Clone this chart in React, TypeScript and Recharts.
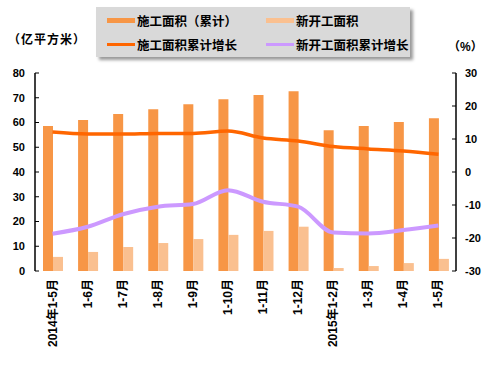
import { ComposedChart, Bar, Line, XAxis, YAxis } from "recharts";

const categories = [
  "2014年1-5月", "1-6月", "1-7月", "1-8月", "1-9月", "1-10月",
  "1-11月", "1-12月", "2015年1-2月", "1-3月", "1-4月", "1-5月",
];
// 亿平方米
const constructionArea = [58.6, 61.0, 63.4, 65.4, 67.4, 69.4, 71.1, 72.6, 56.9, 58.6, 60.2, 61.7];
const newStartArea = [5.7, 7.7, 9.7, 11.3, 12.9, 14.6, 16.2, 17.9, 1.2, 2.0, 3.2, 4.9];
// %
const constructionGrowth = [12.1, 11.5, 11.5, 11.7, 11.7, 12.4, 10.3, 9.4, 7.7, 7.0, 6.4, 5.4];
const newStartGrowth = [-18.7, -16.6, -12.8, -10.5, -9.7, -5.5, -9.0, -10.5, -18.3, -18.6, -17.6, -16.2];

const leftTicks = [0, 10, 20, 30, 40, 50, 60, 70, 80];
const rightTicks = [-30, -20, -10, 0, 10, 20, 30];
const boundaryTicks = categories.map((_, i) => i).concat(categories.length);

const data = categories.map((name, i) => ({
  name,
  construction: constructionArea[i],
  newStart: newStartArea[i],
  constructionGrowth: constructionGrowth[i],
  newStartGrowth: newStartGrowth[i],
}));

const FONT = "'Liberation Sans', 'Noto Sans CJK SC', sans-serif";
const tickStyle = { fontSize: 11, fontWeight: 700, fill: "#000", fontFamily: FONT };

const legendItems = [
  { label: "施工面积（累计）", color: "#F79646", kind: "bar" },
  { label: "新开工面积", color: "#FAC090", kind: "bar" },
  { label: "施工面积累计增长", color: "#FF6600", kind: "line" },
  { label: "新开工面积累计增长", color: "#CC99FF", kind: "line" },
];

function RotatedTick({ x, y, payload }: any) {
  return (
    <text
      x={x}
      y={y}
      transform={`rotate(-90, ${x}, ${y})`}
      textAnchor="end"
      dominantBaseline="central"
      fontSize={12}
      fontWeight={700}
      fontFamily={FONT}
      fill="#000"
    >
      {payload.value}
    </text>
  );
}

function ChartLegend() {
  return (
    <div
      style={{
        position: "absolute",
        left: 96,
        top: 7,
        width: 314,
        height: 50,
        background: "#D9D9D9",
        boxShadow: "3px 3px 3px #9a9a9a",
      }}
    >
      {legendItems.map((item, i) => (
        <div
          key={item.label}
          style={{
            position: "absolute",
            left: i % 2 === 0 ? 11 : 170,
            top: i < 2 ? 5 : 29,
            height: 16,
            display: "flex",
            alignItems: "center",
            fontFamily: FONT,
            fontWeight: 700,
            fontSize: 12.5,
            color: "#000",
            whiteSpace: "nowrap",
          }}
        >
          <span
            style={{
              display: "inline-block",
              width: 28,
              height: item.kind === "bar" ? 5 : 3,
              background: item.color,
              marginRight: 2,
            }}
          />
          {item.label}
        </div>
      ))}
    </div>
  );
}

export default function App() {
  return (
    <div style={{ position: "absolute", left: 0, top: 0, width: 494, height: 365, background: "#fff" }}>
      <ComposedChart
        width={494}
        height={365}
        data={data}
        margin={{ top: 73, right: 0, bottom: 0, left: 0 }}
        barGap={0}
        barCategoryGap="21%"
      >
        <XAxis
          xAxisId="bounds"
          type="number"
          domain={[0, categories.length]}
          ticks={boundaryTicks}
          tick={false}
          tickSize={-4}
          height={0}
          stroke="#000"
          axisLine={{ stroke: "#000", strokeWidth: 1.5 }}
        />
        <XAxis
          dataKey="name"
          interval={0}
          height={94}
          axisLine={false}
          tickLine={false}
          tickSize={0}
          tickMargin={8}
          tick={<RotatedTick />}
        />
        <YAxis
          yAxisId="left"
          width={35}
          domain={[0, 80]}
          ticks={leftTicks}
          interval={0}
          tickSize={-4}
          tickMargin={14}
          tick={tickStyle}
          stroke="#000"
          axisLine={{ stroke: "#000", strokeWidth: 1.5 }}
        />
        <YAxis
          yAxisId="right"
          orientation="right"
          width={38}
          domain={[-30, 30]}
          ticks={rightTicks}
          interval={0}
          tickSize={-4}
          tickMargin={13}
          tick={tickStyle}
          stroke="#000"
          axisLine={{ stroke: "#000", strokeWidth: 1.5 }}
        />
        <Bar yAxisId="left" dataKey="construction" fill="#F79646" barSize={10} isAnimationActive={false} />
        <Bar yAxisId="left" dataKey="newStart" fill="#FAC090" barSize={10} isAnimationActive={false} />
        <Line
          yAxisId="right"
          type="monotone"
          dataKey="constructionGrowth"
          stroke="#FF6600"
          strokeWidth={3.5}
          dot={false}
          isAnimationActive={false}
        />
        <Line
          yAxisId="right"
          type="monotone"
          dataKey="newStartGrowth"
          stroke="#CC99FF"
          strokeWidth={4}
          dot={false}
          isAnimationActive={false}
        />
      </ComposedChart>
      <ChartLegend />
      <div
        style={{
          position: "absolute",
          left: 8,
          top: 30,
          fontFamily: FONT,
          fontWeight: 700,
          fontSize: 12,
          letterSpacing: 1,
        }}
      >
        （亿平方米）
      </div>
      <div
        style={{
          position: "absolute",
          left: 448,
          top: 37,
          fontFamily: FONT,
          fontWeight: 700,
          fontSize: 12,
        }}
      >
        （%）
      </div>
    </div>
  );
}
